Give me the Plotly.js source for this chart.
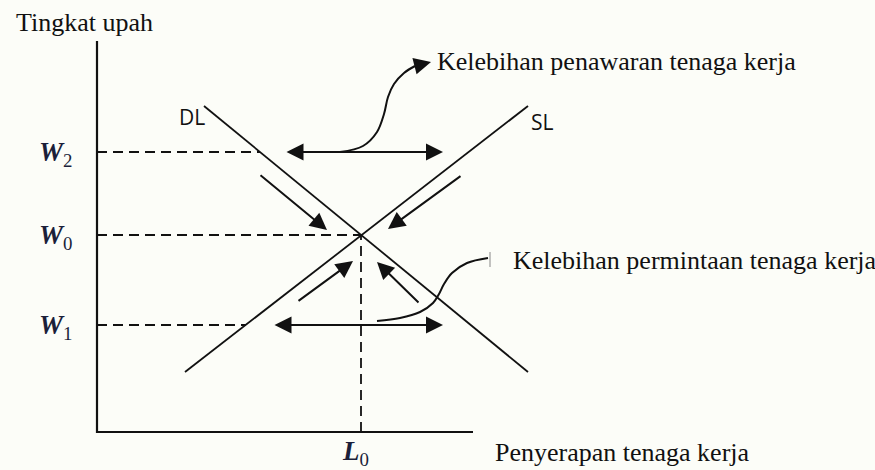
<!DOCTYPE html>
<html>
<head>
<meta charset="utf-8">
<script src="https://cdn.plot.ly/plotly-3.0.1.min.js"></script>
<style>body{margin:0;background:#fcfdf8}</style>
</head>
<body>
<div id="chart" style="width:875px;height:470px"></div>
<script>
// labour on x, wage on y (one unit is about 10px on screen)
var axisRight = 37.6;
var axisTop = 39.1;

var dlX = [10.7, 43.1];
var dlY = [32.6, 6.0];
var slX = [8.8, 43.1];
var slY = [6.0, 32.6];

var wageNames = ['2', '0', '1'];
var wageLevels = [28.0, 19.7, 10.7];
var wageDashEnd = [16.3, 26.4, 14.9];
var L0 = 26.4;

// horizontal double arrows: excess supply at W2, excess demand at W1
var gapLeft = [18.8, 17.6];
var gapRight = [34.6, 34.6];
var gapLevel = [28.0, 10.7];

// adjustment arrows, tail -> tip
var adjTailX = [16.2, 36.5, 20.0, 32.3];
var adjTailY = [25.8, 25.7, 13.0, 12.8];
var adjTipX = [23.0, 29.1, 25.6, 28.0];
var adjTipY = [20.2, 20.3, 17.1, 17.0];

// callout curves
var supplyCalloutX = [24.3, 26.6, 28.0, 28.7, 29.1, 29.7, 30.7, 31.8];
var supplyCalloutY = [28.0, 28.6, 30.0, 31.8, 33.5, 34.8, 35.9, 36.6];
var supplyCalloutTip = [33.4, 37.0];
var demandCalloutX = [28.0, 30.3, 32.3, 33.6, 34.2, 34.7, 35.5, 37.0, 39.1];
var demandCalloutY = [11.1, 11.4, 12.0, 12.9, 13.8, 14.8, 15.9, 16.9, 17.4];
var demandTickX = [39.3, 39.3];
var demandTickY = [16.5, 18.0];

var serif = 'Liberation Serif, Times New Roman, serif';
var ink = '#111';

function line(x, y, opts) {
  return Object.assign({
    x: x, y: y, type: 'scatter', mode: 'lines', hoverinfo: 'skip',
    line: { color: ink, width: 2 }
  }, opts || {});
}

var traces = [
  line([0, 0, axisRight], [axisTop, 0, 0], { line: { color: ink, width: 2.2 } }),
  line(dlX, dlY, { line: { color: ink, width: 1.8 } }),
  line(slX, slY, { line: { color: ink, width: 1.8 } }),
  line([L0, L0], [0, wageLevels[1]], { line: { color: ink, width: 1.8, dash: '10px,6px' } }),
  line(supplyCalloutX, supplyCalloutY, { line: { color: ink, width: 2, shape: 'spline', smoothing: 1 } }),
  line(demandCalloutX, demandCalloutY, { line: { color: ink, width: 2, shape: 'spline', smoothing: 1 } }),
  line(demandTickX, demandTickY, { line: { color: '#888', width: 1 } })
];
wageLevels.forEach(function (w, i) {
  traces.push(line([0, wageDashEnd[i]], [w, w], { line: { color: ink, width: 1.8, dash: '10px,6px' } }));
});

var annotations = [];
function arrow(tx, ty, hx, hy, side) {
  annotations.push({
    x: hx, y: hy, ax: tx, ay: ty, xref: 'x', yref: 'y', axref: 'x', ayref: 'y',
    text: '', showarrow: true, arrowhead: 2, startarrowhead: 2, arrowsize: 1.7, startarrowsize: 1.7,
    arrowwidth: 2, arrowcolor: ink, arrowside: side || 'end', standoff: 0, startstandoff: 0
  });
}
gapLevel.forEach(function (w, i) { arrow(gapLeft[i], w, gapRight[i], w, 'end+start'); });
adjTipX.forEach(function (x, i) { arrow(adjTailX[i], adjTailY[i], x, adjTipY[i]); });
arrow(supplyCalloutX[supplyCalloutX.length - 1], supplyCalloutY[supplyCalloutY.length - 1],
  supplyCalloutTip[0], supplyCalloutTip[1]);

function label(text, x, y, xanchor, font) {
  annotations.push({
    x: x, y: y, xref: 'x', yref: 'y', text: text, showarrow: false,
    xanchor: xanchor, yanchor: 'middle', font: font
  });
}
var serifFont = { family: serif, size: 26, color: ink };
var mathFont = { family: serif, size: 27, color: '#1b1f3a' };
var sansFont = { family: 'Open Sans, sans-serif', size: 21, color: ink };

label('Tingkat upah', -8.3, 41.0, 'left', serifFont);
label('Penyerapan tenaga kerja', 39.6, -2.0, 'left', serifFont);
label('Kelebihan penawaran tenaga kerja', 33.8, 37.1, 'left', serifFont);
label('Kelebihan permintaan tenaga kerja', 41.4, 17.2, 'left', serifFont);
label('DL', 11.0, 31.55, 'right', sansFont);
label('SL', 43.2, 31.0, 'left', sansFont);
wageLevels.forEach(function (w, i) {
  label('<b><i>W</i></b><sub>' + wageNames[i] + '</sub>', -4.2, w - 0.2, 'center', mathFont);
});
label('<b><i>L</i></b><sub>0</sub>', L0 - 0.6, -2.1, 'center', mathFont);

var layout = {
  width: 875, height: 470,
  margin: { l: 0, r: 0, t: 0, b: 0 },
  paper_bgcolor: '#fcfdf8', plot_bgcolor: '#fcfdf8',
  showlegend: false,
  xaxis: { range: [-9.7, 77.8], visible: false, fixedrange: true },
  yaxis: { range: [-3.8, 43.2], visible: false, fixedrange: true },
  annotations: annotations
};

Plotly.newPlot('chart', traces, layout, { displayModeBar: false, staticPlot: true });
</script>
</body>
</html>
